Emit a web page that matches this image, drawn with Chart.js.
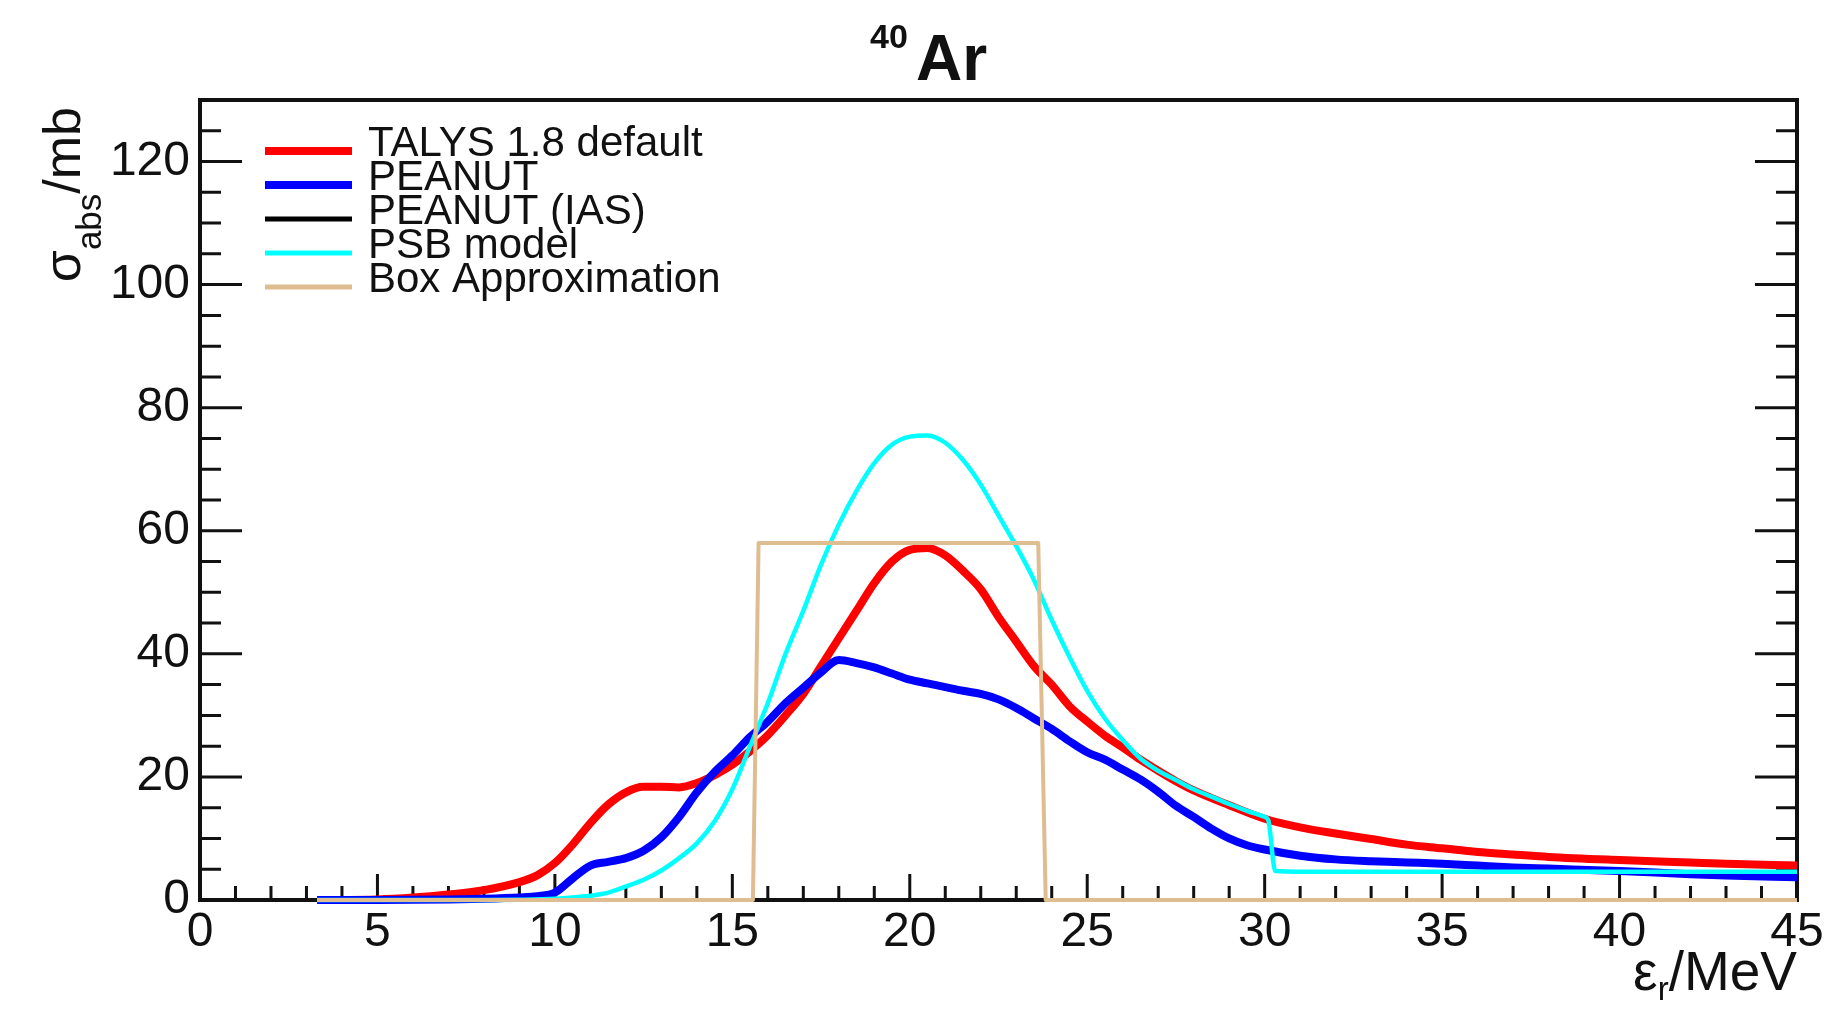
<!DOCTYPE html>
<html><head><meta charset="utf-8">
<script src="https://cdn.jsdelivr.net/npm/chart.js@4.4.1/dist/chart.umd.min.js"></script>
<style>html,body{margin:0;padding:0;background:#fff;overflow:hidden}canvas{display:block}</style>
</head><body>
<canvas id="c" width="1832" height="1009"></canvas>
<script>
// ---- data ----
const talysE = [3.3,5,6,7,8,9,9.5,10,10.5,11,11.5,12,12.5,13,13.5,14,14.5,15,15.5,16,16.5,17,17.5,18,18.5,19,19.5,20,20.5,21,21.5,22,22.5,23,23.5,24,24.5,25,25.5,26,26.5,27,27.5,28,29,30,31,32,33,34,35,36,37,38,40,42,43,45];
const talysSigma = [0,0.1,0.4,0.9,1.6,2.9,4,6,9,12.5,15.5,17.5,18.4,18.4,18.3,19,20.3,22,24.2,26.8,30,33.5,38,42.5,47,51.5,55,56.9,57.2,56,53.5,50.5,46,42,38,35,31.5,29,26.7,24.8,22.8,21,19.3,17.8,15.4,13.2,11.8,10.8,9.9,9,8.4,7.8,7.4,7.0,6.5,6.1,5.9,5.6];

const peanutE = [3.3,5,7,8,9,9.5,10,10.5,11,11.5,12,12.5,13,13.5,14,14.5,15,15.5,16,16.5,17,17.5,18,18.5,19,19.5,20,20.5,21,21.5,22,22.5,23,23.5,24,24.5,25,25.5,26,26.5,27,27.5,28,28.5,29,29.5,30,31,32,33,34,35,36,37,38,40,42,43,45];
const peanutSigma = [0,0,0.1,0.2,0.4,0.6,1.2,3.5,5.6,6.2,6.8,8,10.2,13.5,17.5,20.8,23.5,26.5,29,32,34.5,37,39,38.5,37.8,36.8,35.8,35.2,34.6,34,33.5,32.6,31.2,29.5,27.8,25.8,24,22.8,21.2,19.6,17.6,15.3,13.5,11.6,10,8.9,8.2,7.2,6.6,6.3,6.1,5.9,5.6,5.3,5.1,4.7,4.2,4,3.7];

const peanutIasE = [];
const peanutIasSigma = [];

const psbE = [3.3,8,9,10,10.5,11,11.5,12,12.5,13,13.5,14,14.5,15,15.5,16,16.5,17,17.5,18,18.5,19,19.5,20,20.5,21,21.5,22,22.5,23,23.5,24,24.5,25,25.5,26,26.5,27,27.5,28,28.5,29,29.5,30,30.1,30.3,31,35,40,45];
const psbSigma = [0,0,0.05,0.2,0.4,0.7,1.2,2.2,3.3,4.8,6.8,9.2,12.8,18,25,32,40,47,54.5,61,66.5,71,74,75.3,75.5,74.3,71.5,67.5,62.5,57.5,52,45.5,39.5,34,29.5,26,23,21,19.5,18,16.8,15.6,14.5,13.5,13,4.7,4.6,4.6,4.6,4.6];

const boxE = [3.3,15.58,15.74,23.62,23.83,45];
const boxSigma = [0,0,58,58,0,0];

const seriesLabels = ['TALYS 1.8 default','PEANUT','PEANUT (IAS)','PSB model','Box Approximation'];
const xTickValues = [0,5,10,15,20,25,30,35,40,45];
const yTickValues = [0,20,40,60,80,100,120];
const xRange = [0,45];
const yRange = [0,130];
const titleSup = '40';
const titleMain = 'Ar';

// ---- chart ----
const FONT = "'Liberation Sans', Arial, Helvetica, sans-serif";
const pts = (xs, ys) => xs.map((x, i) => ({x: x, y: ys[i]}));

const rootStyle = {
  id: 'rootStyle',
  beforeDatasetsDraw(chart) {
    const {ctx, chartArea: a, scales: {x, y}} = chart;
    ctx.save();
    ctx.strokeStyle = '#111';
    ctx.lineCap = 'butt';
    ctx.lineWidth = 3;
    ctx.beginPath();
    for (let v = xRange[0] + 1; v < xRange[1]; v++) {
      const px = x.getPixelForValue(v);
      const len = v % 5 === 0 ? 26 : 14;
      ctx.moveTo(px, a.bottom); ctx.lineTo(px, a.bottom - len);
    }
    for (let v = yRange[0] + 5; v < yRange[1]; v += 5) {
      const py = y.getPixelForValue(v);
      const len = v % 20 === 0 ? 42 : 21;
      ctx.moveTo(a.left, py); ctx.lineTo(a.left + len, py);
      ctx.moveTo(a.right, py); ctx.lineTo(a.right - len, py);
    }
    ctx.stroke();
    ctx.lineWidth = 4;
    ctx.strokeRect(a.left, a.top, a.right - a.left, a.bottom - a.top);
    ctx.restore();
  },
  afterDraw(chart) {
    const {ctx, chartArea: a} = chart;
    ctx.save();
    ctx.fillStyle = '#111';
    ctx.textAlign = 'left';
    ctx.textBaseline = 'alphabetic';
    // title
    ctx.font = 'bold 34px ' + FONT;
    ctx.fillText(titleSup, 870, 48);
    ctx.font = 'bold 64px ' + FONT;
    ctx.fillText(titleMain, 916, 80);

    // x axis title  ε_r/MeV (right aligned)
    const big = '55px ' + FONT, small = '33px ' + FONT;
    ctx.font = big; const wE = ctx.measureText('ε').width; const wM = ctx.measureText('/MeV').width;
    ctx.font = small; const wR = ctx.measureText('r').width;
    let sx = a.right - (wE + wR + wM);
    ctx.font = big; ctx.fillText('ε', sx, 990);
    ctx.font = small; ctx.fillText('r', sx + wE, 1000);
    ctx.font = big; ctx.fillText('/MeV', sx + wE + wR, 990);

    // y axis title σ_abs/mb (rotated, top aligned)
    ctx.font = '52px ' + FONT; const wS = ctx.measureText('σ').width; const wMb = ctx.measureText('/mb').width;
    ctx.font = '35px ' + FONT; const wA = ctx.measureText('abs').width;
    const tot = wS + wA + wMb;
    ctx.translate(80, a.top + 7);
    ctx.rotate(-Math.PI / 2);
    ctx.font = '52px ' + FONT; ctx.fillText('σ', -tot, 0);
    ctx.font = '35px ' + FONT; ctx.fillText('abs', -tot + wS, 21);
    ctx.font = '52px ' + FONT; ctx.fillText('/mb', -tot + wS + wA, 0);
    ctx.setTransform(1, 0, 0, 1, 0, 0);

    // legend
    const rows = [151, 185, 219, 253, 287];
    chart.data.datasets.forEach((ds, i) => {
      const yy = rows[i];
      ctx.strokeStyle = ds.borderColor;
      ctx.lineWidth = Math.max(ds.borderWidth, 5);
      ctx.lineCap = 'butt';
      ctx.beginPath(); ctx.moveTo(265, yy); ctx.lineTo(352, yy); ctx.stroke();
      ctx.fillStyle = '#111';
      ctx.font = '42px ' + FONT;
      ctx.fillText(ds.label, 368, yy + 5);
    });
    ctx.restore();
  }
};

const common = {pointRadius: 0, fill: false, clip: false, cubicInterpolationMode: 'monotone'};
new Chart(document.getElementById('c'), {
  type: 'line',
  data: {
    datasets: [
      Object.assign({label: seriesLabels[0], data: pts(talysE, talysSigma), borderColor: '#ff0000', borderWidth: 8, order: 5}, common),
      Object.assign({label: seriesLabels[1], data: pts(peanutE, peanutSigma), borderColor: '#0000ff', borderWidth: 8, order: 4}, common),
      Object.assign({label: seriesLabels[2], data: pts(peanutIasE, peanutIasSigma), borderColor: '#000000', borderWidth: 5, order: 3}, common),
      Object.assign({label: seriesLabels[3], data: pts(psbE, psbSigma), borderColor: '#00ffff', borderWidth: 4.5, order: 2}, common),
      Object.assign({}, common, {label: seriesLabels[4], data: pts(boxE, boxSigma), borderColor: 'rgb(222,190,145)', borderWidth: 4, order: 1, tension: 0, cubicInterpolationMode: 'default'})
    ]
  },
  options: {
    responsive: false,
    animation: false,
    devicePixelRatio: 1,
    layout: {padding: {left: 0, top: 100, right: 35, bottom: 39}},
    elements: {line: {borderJoinStyle: 'round', borderCapStyle: 'butt'}},
    plugins: {legend: {display: false}, tooltip: {enabled: false}, title: {display: false}},
    scales: {
      x: {
        type: 'linear', min: xRange[0], max: xRange[1],
        grid: {display: false, drawTicks: false},
        border: {display: false},
        afterBuildTicks: s => { s.ticks = xTickValues.map(v => ({value: v})); },
        ticks: {autoSkip: false, maxRotation: 0, minRotation: 0, padding: 4, color: '#111', font: {family: FONT, size: 48}},
        afterFit: s => { s.height = 70; s.paddingLeft = 0; s.paddingRight = 0; }
      },
      y: {
        type: 'linear', min: yRange[0], max: yRange[1],
        grid: {display: false, drawTicks: false},
        border: {display: false},
        afterBuildTicks: s => { s.ticks = yTickValues.map(v => ({value: v})); },
        ticks: {autoSkip: false, padding: 10, color: '#111', font: {family: FONT, size: 48}},
        afterFit: s => { s.width = 200; s.paddingTop = 0; s.paddingBottom = 0; }
      }
    }
  },
  plugins: [rootStyle]
});
</script>
</body></html>
